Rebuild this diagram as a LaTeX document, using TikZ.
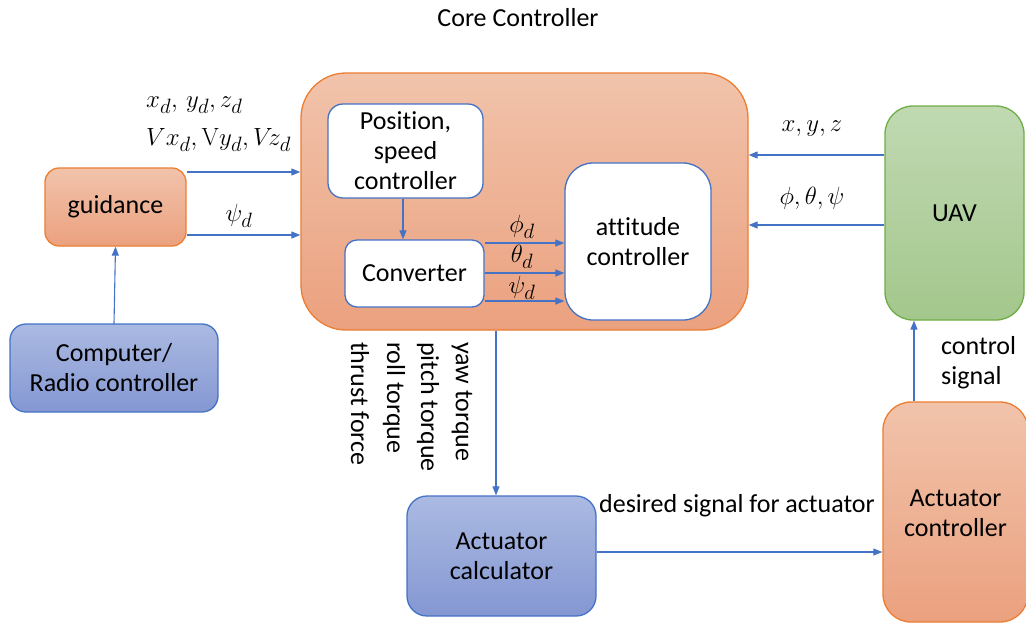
\documentclass[tikz,border=0pt]{standalone}
\usepackage[no-math]{fontspec}
\setmainfont[Ligatures=NoCommon]{Carlito}
\usetikzlibrary{arrows.meta}
\definecolor{orgB}{HTML}{ED7D31}
\definecolor{orgT}{HTML}{F1C3AB}
\definecolor{orgD}{HTML}{EBA17F}
\definecolor{bluB}{HTML}{4472C4}
\definecolor{bluT}{HTML}{ABBAE2}
\definecolor{bluD}{HTML}{8497D2}
\definecolor{grnB}{HTML}{70AD47}
\definecolor{grnT}{HTML}{C0D9B2}
\definecolor{grnD}{HTML}{A3C78C}
\tikzset{
  box/.style={draw, line width=1.3pt, rounded corners=#1, align=center, inner sep=0pt,
    font=\fontsize{26}{30}\selectfont},
  orangebox/.style={box=#1, draw=orgB, top color=orgT, bottom color=orgD},
  bluebox/.style={box=#1, draw=bluB, top color=bluT, bottom color=bluD},
  greenbox/.style={box=#1, draw=grnB, top color=grnT, bottom color=grnD},
  whitebox/.style={box=#1, draw=bluB, fill=white},
  conn/.style={draw=bluB, line width=1.1pt, -{Triangle[length=9pt,width=7pt]}},
  lbl/.style={font=\fontsize{26}{30}\selectfont, inner sep=0pt},
  mlbl/.style={font=\fontsize{29}{33}\selectfont, inner sep=0pt},
}
\begin{document}
\begin{tikzpicture}[x=1pt,y=-1pt]
\useasboundingbox (0,0) rectangle (1026,625);
% title
\node[lbl] (title) at (518,18) {Core Controller};
% boxes
\node[orangebox=45, minimum width=447pt, minimum height=257pt] (core) at (524.5,201.5) {};
\node[whitebox=15, minimum width=155pt, minimum height=94pt] (pos) at (405.5,151) {Position,\\speed\\controller};
\node[whitebox=12, minimum width=139pt, minimum height=67pt] (conv) at (414.5,273.5) {Converter};
\node[whitebox=28, minimum width=146pt, minimum height=157pt] (att) at (638,241.5) {attitude\\controller};
\node[orangebox=14, minimum width=141pt, minimum height=78pt] (guid) at (115.5,207) {guidance};
\node[bluebox=16, minimum width=208pt, minimum height=88pt] (comp) at (114,368) {Computer/\\Radio controller};
\node[greenbox=28, minimum width=139pt, minimum height=214pt] (uav) at (954.5,213) {UAV};
\node[bluebox=20, minimum width=189pt, minimum height=120pt] (acalc) at (501.5,556) {Actuator\\calculator};
\node[orangebox=28, minimum width=145pt, minimum height=220pt] (actl) at (955.5,512) {};
\node[lbl, align=center] (actltxt) at (955.5,513) {Actuator\\controller};
% guidance -> core
\draw[conn] (guid.east |- 0,172) -- (core.west |- 0,172);
\draw[conn] (guid.east |- 0,235) -- (core.west |- 0,235);
\node[mlbl, anchor=west] (l1) at (146,105) {$x_d,\,y_d,z_d$};
\node[mlbl, anchor=west] (l2) at (146,140) {$Vx_d,\mathrm{V}y_d,V\!z_d$};
\node[mlbl] (l3) at (239,216) {$\psi_d$};
% computer -> guidance
\draw[conn] (comp.north |- 0,324) -- (guid.south);
% position -> converter
\draw[conn] (pos.south -| 403,0) -- (conv.north -| 403,0);
% converter -> attitude
\draw[conn] (conv.east |- 0,243) -- (att.west |- 0,243);
\draw[conn] (conv.east |- 0,273) -- (att.west |- 0,273);
\draw[conn] (conv.east |- 0,301) -- (att.west |- 0,301);
\node[mlbl] (p1) at (522,227) {$\phi_d$};
\node[mlbl] (p2) at (522,257) {$\theta_d$};
\node[mlbl] (p3) at (522,288) {$\psi_d$};
% UAV -> core
\draw[conn] (uav.west |- 0,155) -- (core.east |- 0,155);
\draw[conn] (uav.west |- 0,225) -- (core.east |- 0,225);
\node[mlbl] (u1) at (812,129) {$x,y,z$};
\node[mlbl] (u2) at (812,198) {$\phi,\theta,\psi$};
% core -> actuator calculator
\draw[conn] (core.south -| 496,0) -- (acalc.north -| 496,0);
\node[lbl, rotate=-90, anchor=west] (t1) at (462,342) {yaw torque};
\node[lbl, rotate=-90, anchor=west] (t2) at (428,342) {pitch torque};
\node[lbl, rotate=-90, anchor=west] (t3) at (394,342) {roll torque};
\node[lbl, rotate=-90, anchor=west] (t4) at (360,342) {thrust force};
% actuator calculator -> actuator controller
\draw[conn] (acalc.east |- 0,552) -- (actl.west |- 0,552);
\node[lbl] (d1) at (737,506) {desired signal for actuator};
% actuator controller -> UAV
\draw[conn] (actl.north -| 914,0) -- (uav.south -| 914,0);
\node[lbl, align=left, anchor=west] (cs) at (941,363) {control\\signal};
\end{tikzpicture}
\end{document}
